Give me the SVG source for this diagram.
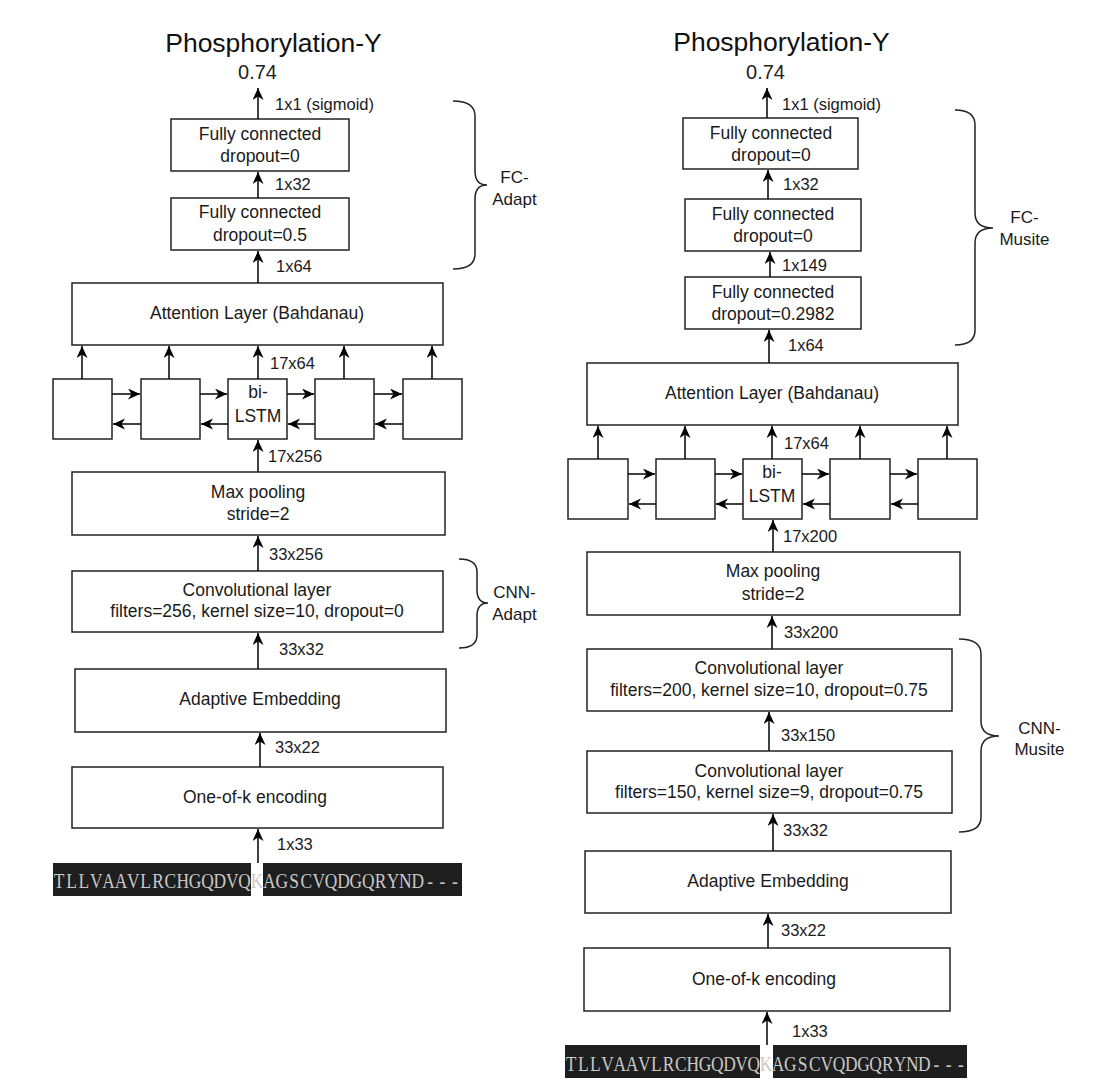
<svg xmlns="http://www.w3.org/2000/svg" width="1093" height="1090" viewBox="0 0 1093 1090">
<defs>
<marker id="ah" markerUnits="userSpaceOnUse" markerWidth="14" markerHeight="12" refX="12" refY="5.5" orient="auto">
<path d="M0,0 L12,5.5 L0,11 L3.5,5.5 z" fill="#000"/>
</marker>
</defs>
<style>
.box{fill:#fff;stroke:#222;stroke-width:1.5}
.t{font-family:"Liberation Sans",Arial,sans-serif;font-size:17.5px;fill:#1a1a1a;text-anchor:middle}
.l{font-family:"Liberation Sans",Arial,sans-serif;font-size:16.5px;fill:#1a1a1a}
.title{font-family:"Liberation Sans",Arial,sans-serif;font-size:26.5px;fill:#111;text-anchor:middle}
.val{font-family:"Liberation Sans",Arial,sans-serif;font-size:20px;fill:#222;text-anchor:middle}
.br{font-family:"Liberation Sans",Arial,sans-serif;font-size:17px;fill:#1a1a1a;text-anchor:middle}
.c{stroke:#111;stroke-width:1.6;fill:none;marker-end:url(#ah)}
.brace{stroke:#222;stroke-width:1.5;fill:none}
.seqbg{fill:#1e1e1e}
.seq{font-family:"Liberation Serif","Times New Roman",serif;font-size:20.5px;fill:#c8c8c8;text-anchor:middle}
</style>
<rect width="1093" height="1090" fill="#fff"/>

<!-- ================= LEFT ================= -->
<g id="left-title">
<text class="title" x="273.5" y="52">Phosphorylation-Y</text>
<text class="val" x="257.5" y="79">0.74</text>
</g>
<g id="L-fc1"><rect class="box" x="171" y="119" width="178" height="52"/><text class="t" x="260" y="140">Fully connected</text><text class="t" x="260" y="162">dropout=0</text></g>
<g id="L-fc2"><rect class="box" x="171" y="198" width="178" height="52"/><text class="t" x="260" y="218">Fully connected</text><text class="t" x="260" y="241">dropout=0.5</text></g>
<g id="L-att"><rect class="box" x="72" y="283" width="371" height="62"/><text class="t" x="257" y="319">Attention Layer (Bahdanau)</text></g>
<g id="L-lstm1"><rect class="box" x="53" y="379" width="59" height="60"/></g>
<g id="L-lstm2"><rect class="box" x="141" y="379" width="59" height="60"/></g>
<g id="L-lstm3"><rect class="box" x="228" y="379" width="59" height="60"/><text class="t" x="258" y="398">bi-</text><text class="t" x="258" y="422">LSTM</text></g>
<g id="L-lstm4"><rect class="box" x="315" y="379" width="59" height="60"/></g>
<g id="L-lstm5"><rect class="box" x="403" y="379" width="59" height="60"/></g>
<g id="L-pool"><rect class="box" x="72" y="472" width="373" height="63"/><text class="t" x="258" y="498">Max pooling</text><text class="t" x="258" y="520">stride=2</text></g>
<g id="L-conv"><rect class="box" x="72" y="571" width="371" height="61"/><text class="t" x="257" y="596">Convolutional layer</text><text class="t" x="257" y="617">filters=256, kernel size=10, dropout=0</text></g>
<g id="L-emb"><rect class="box" x="75" y="669" width="371" height="63"/><text class="t" x="260" y="705">Adaptive Embedding</text></g>
<g id="L-onehot"><rect class="box" x="72" y="767" width="371" height="61"/><text class="t" x="255" y="803">One-of-k encoding</text></g>
<g id="L-seq">
<rect class="seqbg" x="53" y="863" width="198" height="33"/>
<rect class="seqbg" x="263" y="863" width="199" height="33"/>
<text class="seq" transform="scale(0.85,1)" y="888" x="69.6 84.2 98.7 113.3 127.8 142.4 156.9 171.4 186.0 200.5 215.1 229.6 244.2 258.7 273.3 287.8 302.4 316.9 331.4 346.0 360.5 375.1 389.6 404.2 418.7 433.3 447.8 462.4 476.9 491.4 506.0 520.5 535.1">TLLVAAVLRCHGQDVQKAGSCVQDGQRYND---</text>
</g>
<g id="L-brace-fc">
<path class="brace" d="M453,101 Q475,101 475,116 L475,171 Q475,185 487,185 Q475,185 475,199 L475,254 Q475,269 453,269"/>
<text class="br" x="514.5" y="183">FC-</text><text class="br" x="514.5" y="205">Adapt</text>
</g>
<g id="L-brace-cnn">
<path class="brace" d="M459,559 Q477,559 477,572 L477,590 Q477,603 488,603 Q477,603 477,616 L477,635 Q477,648 459,648"/>
<text class="br" x="514.5" y="598">CNN-</text><text class="br" x="514.5" y="620">Adapt</text>
</g>

<!-- ================= RIGHT ================= -->
<g id="right-title">
<text class="title" x="781.5" y="51">Phosphorylation-Y</text>
<text class="val" x="765.5" y="79">0.74</text>
</g>
<g id="R-fc1"><rect class="box" x="683" y="118" width="175" height="51"/><text class="t" x="771" y="139">Fully connected</text><text class="t" x="771" y="161">dropout=0</text></g>
<g id="R-fc2"><rect class="box" x="685" y="199" width="176" height="52"/><text class="t" x="773" y="220">Fully connected</text><text class="t" x="773" y="242">dropout=0</text></g>
<g id="R-fc3"><rect class="box" x="685" y="277" width="176" height="52"/><text class="t" x="773" y="298">Fully connected</text><text class="t" x="773" y="320">dropout=0.2982</text></g>
<g id="R-att"><rect class="box" x="587" y="363" width="371" height="62"/><text class="t" x="772" y="399">Attention Layer (Bahdanau)</text></g>
<g id="R-lstm1"><rect class="box" x="568" y="459" width="60" height="60"/></g>
<g id="R-lstm2"><rect class="box" x="656" y="459" width="59" height="60"/></g>
<g id="R-lstm3"><rect class="box" x="743" y="459" width="59" height="60"/><text class="t" x="772" y="478">bi-</text><text class="t" x="772" y="502">LSTM</text></g>
<g id="R-lstm4"><rect class="box" x="830" y="459" width="60" height="60"/></g>
<g id="R-lstm5"><rect class="box" x="918" y="459" width="59" height="60"/></g>
<g id="R-pool"><rect class="box" x="587" y="552" width="373" height="63"/><text class="t" x="773" y="577">Max pooling</text><text class="t" x="773" y="600">stride=2</text></g>
<g id="R-conv1"><rect class="box" x="587" y="649" width="365" height="62"/><text class="t" x="769" y="674">Convolutional layer</text><text class="t" x="769" y="696">filters=200, kernel size=10, dropout=0.75</text></g>
<g id="R-conv2"><rect class="box" x="587" y="751" width="365" height="62"/><text class="t" x="769" y="777">Convolutional layer</text><text class="t" x="769" y="798">filters=150, kernel size=9, dropout=0.75</text></g>
<g id="R-emb"><rect class="box" x="585" y="851" width="366" height="62"/><text class="t" x="768" y="887">Adaptive Embedding</text></g>
<g id="R-onehot"><rect class="box" x="584" y="948" width="366" height="63"/><text class="t" x="764" y="985">One-of-k encoding</text></g>
<g id="R-seq">
<rect class="seqbg" x="565" y="1045" width="195" height="33"/>
<rect class="seqbg" x="773" y="1045" width="194" height="33"/>
<text class="seq" transform="scale(0.85,1)" y="1071" x="671.9 686.2 700.5 714.9 729.2 743.5 757.9 772.2 786.5 800.9 815.2 829.5 843.9 858.2 872.5 886.9 901.2 915.5 929.9 944.2 958.5 972.8 987.2 1001.5 1015.8 1030.2 1044.5 1058.8 1073.2 1087.5 1101.8 1116.2 1130.5">TLLVAAVLRCHGQDVQKAGSCVQDGQRYND---</text>
</g>
<g id="R-brace-fc">
<path class="brace" d="M955,110 Q975,110 975,125 L975,213 Q975,228 993,228 Q975,228 975,243 L975,330 Q975,345 955,345"/>
<text class="br" x="1024.5" y="223">FC-</text><text class="br" x="1024.5" y="245">Musite</text>
</g>
<g id="R-brace-cnn">
<path class="brace" d="M959,639 Q981,639 981,654 L981,721 Q981,736 999,736 Q981,736 981,751 L981,817 Q981,832 959,832"/>
<text class="br" x="1039.5" y="734">CNN-</text><text class="br" x="1039.5" y="755">Musite</text>
</g>

<!-- ================= CONNECTORS ================= -->
<g id="connectors">
<line class="c" x1="258" y1="119" x2="258" y2="88"/>
<line class="c" x1="258" y1="198" x2="258" y2="172"/>
<line class="c" x1="258" y1="283" x2="258" y2="251"/>
<line class="c" x1="82" y1="379" x2="82" y2="346"/>
<line class="c" x1="169" y1="379" x2="169" y2="346"/>
<line class="c" x1="258" y1="379" x2="258" y2="346"/>
<line class="c" x1="344" y1="379" x2="344" y2="346"/>
<line class="c" x1="432" y1="379" x2="432" y2="346"/>
<line class="c" x1="258" y1="472" x2="258" y2="440"/>
<line class="c" x1="258" y1="571" x2="258" y2="536"/>
<line class="c" x1="258" y1="669" x2="258" y2="633"/>
<line class="c" x1="260" y1="767" x2="260" y2="733"/>
<line class="c" x1="258" y1="863" x2="258" y2="829"/>
<line class="c" x1="112" y1="394" x2="140" y2="394"/>
<line class="c" x1="200" y1="394" x2="227" y2="394"/>
<line class="c" x1="287" y1="394" x2="314" y2="394"/>
<line class="c" x1="374" y1="394" x2="402" y2="394"/>
<line class="c" x1="141" y1="424" x2="113" y2="424"/>
<line class="c" x1="228" y1="424" x2="201" y2="424"/>
<line class="c" x1="315" y1="424" x2="288" y2="424"/>
<line class="c" x1="403" y1="424" x2="375" y2="424"/>
<line class="c" x1="767" y1="118" x2="767" y2="88"/>
<line class="c" x1="768" y1="199" x2="768" y2="170"/>
<line class="c" x1="770" y1="277" x2="770" y2="252"/>
<line class="c" x1="769" y1="363" x2="769" y2="330"/>
<line class="c" x1="598" y1="459" x2="598" y2="426"/>
<line class="c" x1="685" y1="459" x2="685" y2="426"/>
<line class="c" x1="772" y1="459" x2="772" y2="426"/>
<line class="c" x1="860" y1="459" x2="860" y2="426"/>
<line class="c" x1="947" y1="459" x2="947" y2="426"/>
<line class="c" x1="773" y1="552" x2="773" y2="520"/>
<line class="c" x1="772" y1="649" x2="772" y2="616"/>
<line class="c" x1="769" y1="751" x2="769" y2="712"/>
<line class="c" x1="773" y1="851" x2="773" y2="814"/>
<line class="c" x1="768" y1="948" x2="768" y2="914"/>
<line class="c" x1="767" y1="1045" x2="767" y2="1012"/>
<line class="c" x1="628" y1="474" x2="655" y2="474"/>
<line class="c" x1="715" y1="474" x2="742" y2="474"/>
<line class="c" x1="802" y1="474" x2="829" y2="474"/>
<line class="c" x1="890" y1="474" x2="917" y2="474"/>
<line class="c" x1="656" y1="504" x2="629" y2="504"/>
<line class="c" x1="743" y1="504" x2="716" y2="504"/>
<line class="c" x1="830" y1="504" x2="803" y2="504"/>
<line class="c" x1="918" y1="504" x2="891" y2="504"/>
</g>

<g id="connector-labels">
<text class="l" x="275" y="110">1x1 (sigmoid)</text>
<text class="l" x="275" y="190">1x32</text>
<text class="l" x="276" y="272">1x64</text>
<text class="l" x="270" y="369">17x64</text>
<text class="l" x="268" y="462">17x256</text>
<text class="l" x="269" y="560">33x256</text>
<text class="l" x="279" y="655">33x32</text>
<text class="l" x="275" y="753">33x22</text>
<text class="l" x="277" y="850">1x33</text>
<text class="l" x="782" y="110">1x1 (sigmoid)</text>
<text class="l" x="783" y="190">1x32</text>
<text class="l" x="782" y="271">1x149</text>
<text class="l" x="788" y="351">1x64</text>
<text class="l" x="784" y="449">17x64</text>
<text class="l" x="783" y="542">17x200</text>
<text class="l" x="784" y="638">33x200</text>
<text class="l" x="781" y="741">33x150</text>
<text class="l" x="783" y="836">33x32</text>
<text class="l" x="781" y="936">33x22</text>
<text class="l" x="792" y="1037">1x33</text>
</g>
</svg>
